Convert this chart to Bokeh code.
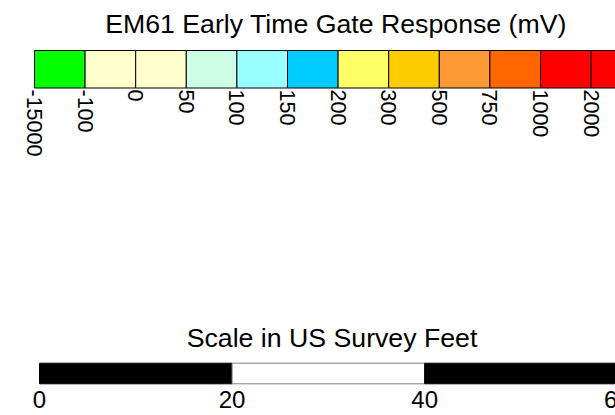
from math import pi
from bokeh.plotting import figure
from bokeh.models import Range1d
from bokeh.embed import file_html
from bokeh.resources import INLINE
from bokeh.core.properties import value

# ---- data ----
legend_title = "EM61 Early Time Gate Response (mV)"
bin_labels = ["-15000", "-100", "0", "50", "100", "150", "200",
              "300", "500", "750", "1000", "2000"]
bin_colors = ["#00FF00", "#FFFFCC", "#FFFFCC", "#CCFFE6", "#99FFFF", "#00CCFF",
              "#FFFF66", "#FFCC00", "#FF9933", "#FF6600", "#FF0000", "#FF0000"]
scale_title = "Scale in US Survey Feet"
scale_ticks = [0, 20, 40, 60]
scale_fill = ["black", "white", "black"]
scale_line = ["black", "#808080", "black"]

# ---- layout ----
W, H = 615, 415
BOX_PX = 50.6      # pixels per legend box
BOX_X0 = 34        # pixel of first box left edge
FT_PX = 9.63       # pixels per foot
FT_X0 = 39         # pixel of 0 ft
FONT = value("Liberation Sans")

xs = -BOX_X0 / BOX_PX
p = figure(width=W, height=H, output_backend="svg", toolbar_location=None,
           x_range=Range1d(xs, xs + W / BOX_PX), y_range=Range1d(H, 0),
           x_axis_location=None, y_axis_location=None, min_border=0)
p.grid.visible = False
p.outline_line_color = None
p.background_fill_color = "white"
p.border_fill_color = "white"

fs = -FT_X0 / FT_PX
p.extra_x_ranges = {"ft": Range1d(fs, fs + W / FT_PX)}

# legend title
p.text(x=[(335.5 - BOX_X0) / BOX_PX], y=[23.7], text=[legend_title],
       text_align="center", text_baseline="alphabetic",
       text_font=FONT, text_font_size="26.7px", text_color="black")

# legend boxes
n = len(bin_labels)
lefts = list(range(n))
rights = [i + 1 for i in lefts]
p.quad(left=lefts, right=rights, top=[50] * n, bottom=[87.5] * n,
       fill_color=bin_colors, line_color="black", line_width=1)

# legend labels (rotated)
p.text(x=lefts, y=[89] * n, text=bin_labels, angle=-pi / 2,
       text_align="left", text_baseline="middle",
       text_font=FONT, text_font_size="21.5px", text_color="black")

# scale title
p.text(x=[(331.5 - FT_X0) / FT_PX], y=[337.7], text=[scale_title],
       x_range_name="ft", text_align="center", text_baseline="alphabetic",
       text_font=FONT, text_font_size="26.7px", text_color="black")

# scale bar
m = len(scale_fill)
p.quad(left=scale_ticks[:-1], right=scale_ticks[1:], top=[362.7] * m,
       bottom=[383.3] * m, fill_color=scale_fill, line_color=scale_line,
       line_width=1, x_range_name="ft")

p.text(x=scale_ticks, y=[399] * len(scale_ticks),
       text=[str(t) for t in scale_ticks], x_range_name="ft",
       text_align="center", text_baseline="alphabetic",
       text_font=FONT, text_font_size="24px", text_color="black")

open("out.html", "w").write(file_html(p, INLINE))
